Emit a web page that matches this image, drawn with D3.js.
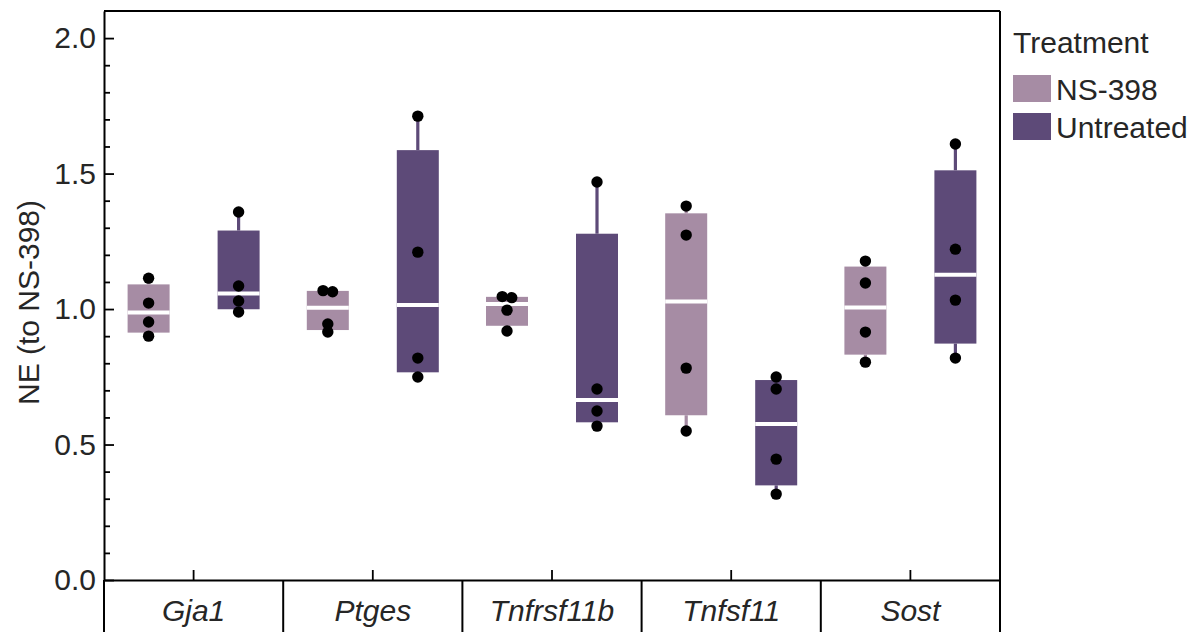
<!DOCTYPE html>
<html>
<head>
<meta charset="utf-8">
<script src="https://cdn.jsdelivr.net/npm/d3@7"></script>
<style>
  html, body { margin: 0; padding: 0; background: #fff; }
  svg { display: block; font-family: "Liberation Sans", Arial, Helvetica, sans-serif; }
</style>
</head>
<body>
<svg id="chart" width="1195" height="632"></svg>
<script>
// Genes on the x axis
const categories = ["Gja1", "Ptges", "Tnfrsf11b", "Tnfsf11", "Sost"];
// Treatment groups
const treatments = ["NS-398", "Untreated"];
// Normalised expression, one replicate list per gene
const ns398Values = [
  [1.114, 1.022, 0.952, 0.900],
  [1.068, 1.064, 0.945, 0.915],
  [1.046, 1.042, 0.996, 0.919],
  [1.380, 1.273, 0.782, 0.550],
  [1.177, 1.096, 0.915, 0.804]
];
const untreatedValues = [
  [1.358, 1.085, 1.030, 0.989],
  [1.712, 1.210, 0.819, 0.749],
  [1.469, 0.705, 0.624, 0.568],
  [0.749, 0.705, 0.446, 0.317],
  [1.609, 1.221, 1.033, 0.819]
];
const yTicks = [0.0, 0.5, 1.0, 1.5, 2.0];
const yMinorTicks = d3.range(0, 21).filter(i => i % 5 !== 0).map(i => i / 10);
const colors = ["#a68ca4", "#5d4a78"];

(function draw() {
  const svg = d3.select("#chart");
  const H = 632;
  const pLeft = 104, pRight = 1000, pTop = 11, pBottom = 580;
  const textColor = "#262626";
  const fontSize = 30;

  const y = d3.scaleLinear().domain([0, 2.1]).range([pBottom, pTop]);
  const x = d3.scaleBand().domain(categories).range([pLeft, pRight]);
  const xt = d3.scalePoint().domain(treatments).range([-45, 45]);
  const color = d3.scaleOrdinal().domain(treatments).range(colors);
  const boxW = 42, dotR = 5.7;

  // quartiles using the (n+1)p rule
  function quant(sorted, p) {
    const n = sorted.length;
    const h = (n + 1) * p;
    if (h <= 1) return sorted[0];
    if (h >= n) return sorted[n - 1];
    const lo = Math.floor(h);
    return sorted[lo - 1] + (h - lo) * (sorted[lo] - sorted[lo - 1]);
  }

  const groups = [];
  categories.forEach((cat, i) => {
    [ns398Values[i], untreatedValues[i]].forEach((vals, j) => {
      const s = vals.slice().sort(d3.ascending);
      groups.push({
        cat, trt: treatments[j], vals: s,
        min: s[0], max: s[s.length - 1],
        q1: quant(s, 0.25), med: quant(s, 0.5), q3: quant(s, 0.75)
      });
    });
  });

  // --- boxes ---
  const g = svg.append("g");
  groups.forEach(d => {
    const cx = x(d.cat) + x.bandwidth() / 2 + xt(d.trt);
    const c = color(d.trt);
    // whiskers
    g.append("line").attr("x1", cx).attr("x2", cx)
      .attr("y1", y(d.q3)).attr("y2", y(d.max))
      .attr("stroke", c).attr("stroke-width", 3.2);
    g.append("line").attr("x1", cx).attr("x2", cx)
      .attr("y1", y(d.q1)).attr("y2", y(d.min))
      .attr("stroke", c).attr("stroke-width", 3.2);
    // box
    g.append("rect").attr("x", cx - boxW / 2).attr("width", boxW)
      .attr("y", y(d.q3)).attr("height", y(d.q1) - y(d.q3))
      .attr("fill", c);
    // median
    g.append("line").attr("x1", cx - boxW / 2).attr("x2", cx + boxW / 2)
      .attr("y1", y(d.med)).attr("y2", y(d.med))
      .attr("stroke", "#fff").attr("stroke-width", 4);
    // points, nudged sideways when they overlap
    const ys = d.vals.map(v => y(v)).sort((a, b) => a - b);
    const clusters = [];
    ys.forEach(py => {
      const last = clusters[clusters.length - 1];
      if (last && py - last[last.length - 1] < 6) last.push(py);
      else clusters.push([py]);
    });
    clusters.forEach(cl => {
      cl.forEach((py, k) => {
        const dx = (k - (cl.length - 1) / 2) * 9.5;
        g.append("circle").attr("cx", cx + dx).attr("cy", py)
          .attr("r", dotR).attr("fill", "#000");
      });
    });
  });

  // --- axes ---
  const yAxis = d3.axisLeft(y).tickValues(yTicks).tickFormat(d3.format(".1f"))
    .tickSizeInner(-10).tickSizeOuter(0).tickPadding(8);
  const ya = svg.append("g").attr("transform", `translate(${pLeft},0)`).call(yAxis);
  ya.selectAll("text").attr("font-size", fontSize).attr("fill", textColor)
    .attr("font-family", "'Liberation Sans', Arial, sans-serif");
  ya.selectAll("line").attr("stroke", "#000").attr("stroke-width", 1.8);
  ya.select(".domain").attr("stroke", "#000").attr("stroke-width", 2);

  const yMinor = d3.axisLeft(y).tickValues(yMinorTicks).tickFormat("")
    .tickSizeInner(-6).tickSizeOuter(0);
  const ym = svg.append("g").attr("transform", `translate(${pLeft},0)`).call(yMinor);
  ym.select(".domain").remove();
  ym.selectAll("line").attr("stroke", "#000").attr("stroke-width", 1.8);

  const xAxis = d3.axisBottom(x).tickFormat("").tickSizeInner(-10).tickSizeOuter(0);
  const xa = svg.append("g").attr("transform", `translate(0,${pBottom})`).call(xAxis);
  xa.selectAll("line").attr("stroke", "#000").attr("stroke-width", 1.8);
  xa.select(".domain").attr("stroke", "#000").attr("stroke-width", 2);

  // frame: top, right, and the strip below the axis
  const frame = svg.append("g").attr("stroke", "#000").attr("stroke-width", 2).attr("fill", "none");
  frame.append("line").attr("x1", pLeft).attr("x2", pRight).attr("y1", pTop).attr("y2", pTop);
  frame.append("line").attr("x1", pRight).attr("x2", pRight).attr("y1", pTop).attr("y2", H + 2);
  frame.append("line").attr("x1", pLeft).attr("x2", pLeft).attr("y1", pBottom).attr("y2", H + 2);
  categories.slice(1).forEach(cat => {
    frame.append("line").attr("x1", x(cat)).attr("x2", x(cat)).attr("y1", pBottom).attr("y2", H + 2);
  });

  // gene labels in the strip
  svg.append("g").selectAll("text").data(categories).join("text")
    .attr("x", d => x(d) + x.bandwidth() / 2)
    .attr("y", 621)
    .attr("text-anchor", "middle")
    .attr("font-style", "italic")
    .attr("font-size", fontSize)
    .attr("fill", textColor)
    .text(d => d);

  // y-axis title
  svg.append("text")
    .attr("transform", `translate(39,${(pTop + pBottom) / 2 + 7}) rotate(-90)`)
    .attr("text-anchor", "middle")
    .attr("font-size", fontSize)
    .attr("fill", textColor)
    .text("NE (to NS-398)");

  // legend
  const lg = svg.append("g").attr("transform", "translate(1013,0)");
  lg.append("text").attr("x", 0).attr("y", 53).attr("font-size", fontSize)
    .attr("fill", textColor).text("Treatment");
  treatments.forEach((t, i) => {
    lg.append("rect").attr("x", 0).attr("y", 75 + i * 38).attr("width", 38).attr("height", 27)
      .attr("fill", color(t));
    lg.append("text").attr("x", 43).attr("y", 100 + i * 38).attr("font-size", fontSize)
      .attr("fill", textColor).text(t);
  });
})();
</script>
</body>
</html>
